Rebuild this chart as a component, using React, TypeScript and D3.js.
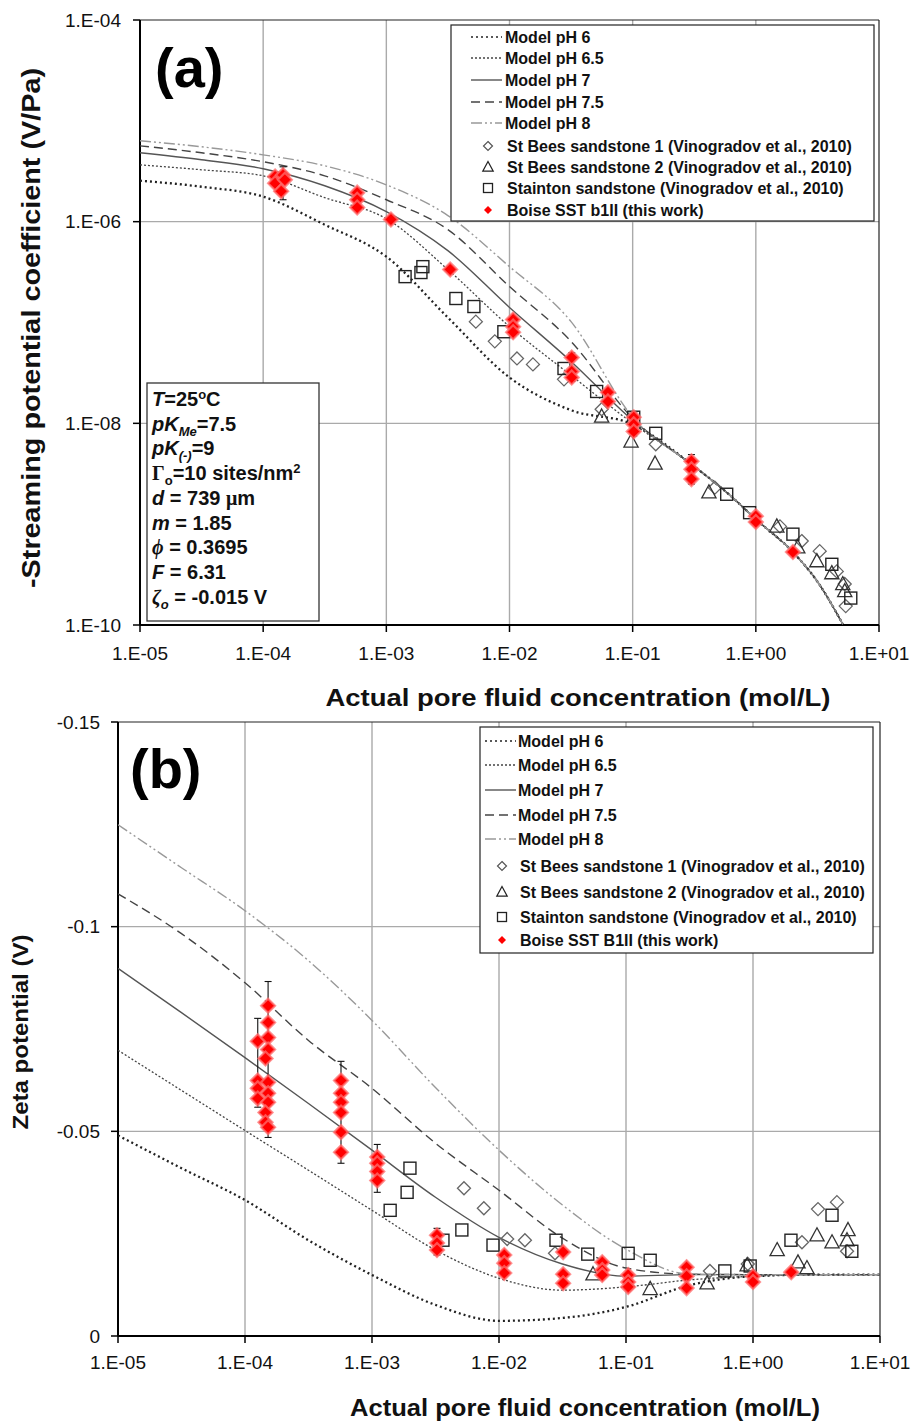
import React from 'react';
import * as d3 from 'd3';

const FONT = '"Liberation Sans", Arial, Helvetica, sans-serif';

// ---------- panel (a) : streaming potential coefficient ----------
const concA = [1e-5, 3.16e-5, 1e-4, 3.16e-4, 1e-3, 3.16e-3, 1e-2, 3.16e-2, 1e-1, 0.315, 0.615, 1, 2, 3.18, 5.08];
const tailA = [3.75e-9, 1.94e-9, 1.12e-9, 5.28e-10, 2.67e-10, 1.02e-10];
const spcPH6 = [2.55e-6, 2.22e-6, 1.77e-6, 9.33e-7, 4.5e-7, 1.12e-7, 2.85e-8, 1.35e-8, 9.77e-9, ...tailA];
const spcPH65 = [3.66e-6, 3.27e-6, 2.85e-6, 1.73e-6, 1.07e-6, 3.35e-7, 9.12e-8, 2.99e-8, 1.0e-8, ...tailA];
const spcPH7 = [4.82e-6, 4.11e-6, 3.35e-6, 2.27e-6, 1.26e-6, 5.16e-7, 1.41e-7, 4.11e-8, 1.07e-8, ...tailA];
const spcPH75 = [5.65e-6, 4.82e-6, 3.93e-6, 2.85e-6, 1.65e-6, 8.34e-7, 2.27e-7, 6.49e-8, 1.12e-8, ...tailA];
const spcPH8 = [6.34e-6, 5.53e-6, 4.6e-6, 3.58e-6, 2.32e-6, 1.15e-6, 3.58e-7, 1.02e-7, 1.15e-8, ...tailA];

const boiseA: [number, number][] = [
  [1.25e-4, 2.8e-6], [1.25e-4, 2.4e-6], [1.45e-4, 2.9e-6], [1.5e-4, 2.6e-6], [1.4e-4, 2.0e-6],
  [5.8e-4, 1.94e-6], [5.8e-4, 1.65e-6], [5.8e-4, 1.38e-6],
  [1.09e-3, 1.05e-6],
  [3.3e-3, 3.35e-7],
  [1.07e-2, 1.07e-7], [1.07e-2, 9.1e-8], [1.07e-2, 8.0e-8],
  [3.2e-2, 4.5e-8], [3.2e-2, 3.27e-8], [3.2e-2, 2.85e-8],
  [6.3e-2, 2.03e-8], [6.3e-2, 1.65e-8],
  [1.02e-1, 1.15e-8], [1.02e-1, 9.8e-9], [1.02e-1, 8.3e-9],
  [0.3, 4.2e-9], [0.3, 3.5e-9], [0.3, 2.8e-9],
  [1.0, 1.2e-9], [1.0, 1.05e-9],
  [2.0, 5.3e-10],
];
const errA: [number, number, number][] = [
  [1.45e-4, 3.5e-6, 1.65e-6], [1.02e-1, 1.3e-8, 7.5e-9], [0.3, 4.9e-9, 2.5e-9], [3.2e-2, 5.0e-8, 2.6e-8],
];
const staintonA: [number, number][] = [
  [1.42e-3, 2.85e-7], [1.91e-3, 3.13e-7], [1.98e-3, 3.58e-7], [3.67e-3, 1.73e-7], [5.14e-3, 1.44e-7],
  [9.0e-3, 8.1e-8], [2.77e-2, 3.5e-8], [5.1e-2, 2.07e-8], [1.02e-1, 1.15e-8], [1.54e-1, 7.96e-9],
  [5.8e-1, 1.98e-9], [0.89, 1.3e-9], [2.0, 7.96e-10], [4.14, 4.0e-10], [5.9, 1.85e-10],
];
const stBees1A: [number, number][] = [
  [5.33e-3, 1.02e-7], [7.6e-3, 6.5e-8], [1.15e-2, 4.4e-8], [1.55e-2, 3.84e-8], [2.77e-2, 2.73e-8],
  [5.6e-2, 1.38e-8], [1.54e-1, 6.2e-9], [0.465, 2.3e-9], [1.57, 9.5e-10], [2.36, 6.8e-10],
  [3.3, 5.4e-10], [4.54, 3.4e-10], [5.27, 2.55e-10], [5.37, 1.54e-10],
];
const stBees2A: [number, number][] = [
  [5.6e-2, 1.17e-8], [9.7e-2, 6.6e-9], [1.52e-1, 4.0e-9], [0.416, 2.07e-9], [1.48, 9.5e-10],
  [2.19, 5.9e-10], [3.13, 4.3e-10], [4.14, 3.27e-10], [5.08, 2.55e-10], [5.27, 2.17e-10],
];

// ---------- panel (b) : zeta potential ----------
const concB = [1e-5, 3.16e-5, 1e-4, 3.16e-4, 1e-3, 3.16e-3, 1e-2, 3.16e-2, 1e-1, 0.316, 1, 3.16, 10];
const zetaPH6 = [-0.049, -0.041, -0.0332, -0.0234, -0.0149, -0.0076, -0.0037, -0.0044, -0.0071, -0.0124, -0.0146, -0.015, -0.015];
const zetaPH65 = [-0.0698, -0.06, -0.0502, -0.0405, -0.0307, -0.021, -0.0141, -0.0112, -0.012, -0.0137, -0.0146, -0.015, -0.015];
const zetaPH7 = [-0.0898, -0.079, -0.068, -0.0568, -0.0454, -0.0339, -0.0241, -0.0176, -0.0146, -0.015, -0.015, -0.015, -0.015];
const zetaPH75 = [-0.108, -0.0983, -0.0863, -0.0722, -0.0605, -0.0471, -0.0356, -0.0239, -0.0166, -0.0151, -0.015, -0.015, -0.015];
const zetaPH8 = [-0.1249, -0.1144, -0.1039, -0.0917, -0.0771, -0.0607, -0.0454, -0.032, -0.0212, -0.0151, -0.015, -0.015, -0.015];

const boiseB: [number, number][] = [
  [1.26e-4, -0.072], [1.26e-4, -0.0624], [1.26e-4, -0.0605], [1.26e-4, -0.058],
  [1.52e-4, -0.0807], [1.52e-4, -0.0766], [1.52e-4, -0.0729], [1.52e-4, -0.07], [1.45e-4, -0.0678],
  [1.52e-4, -0.062], [1.52e-4, -0.0593], [1.52e-4, -0.0571], [1.45e-4, -0.0546], [1.45e-4, -0.0522], [1.52e-4, -0.051],
  [5.7e-4, -0.0624], [5.7e-4, -0.0593], [5.7e-4, -0.0571], [5.7e-4, -0.0546], [5.7e-4, -0.0498], [5.7e-4, -0.0449],
  [1.1e-3, -0.0437], [1.1e-3, -0.0422], [1.1e-3, -0.0402], [1.1e-3, -0.038],
  [3.25e-3, -0.0246], [3.25e-3, -0.0227], [3.25e-3, -0.021],
  [1.1e-2, -0.0198], [1.1e-2, -0.0178], [1.1e-2, -0.0154],
  [3.2e-2, -0.0205], [3.2e-2, -0.0151], [3.2e-2, -0.0129],
  [6.5e-2, -0.018], [6.5e-2, -0.0161], [6.5e-2, -0.0149],
  [0.104, -0.0149], [0.104, -0.0132], [0.104, -0.012],
  [0.3, -0.0168], [0.3, -0.0146], [0.3, -0.0117],
  [1.0, -0.0146], [1.0, -0.0132],
  [2.0, -0.0156],
];
const errB: [number, number, number][] = [
  [1.26e-4, -0.0776, -0.0559], [1.52e-4, -0.0866, -0.0485], [5.7e-4, -0.0671, -0.0422],
  [1.1e-3, -0.0468, -0.0351], [3.25e-3, -0.0263, -0.0198],
];
const staintonB: [number, number][] = [
  [1.39e-3, -0.0307], [1.89e-3, -0.0351], [1.99e-3, -0.041], [3.62e-3, -0.0234], [5.1e-3, -0.0259],
  [8.97e-3, -0.0222], [2.81e-2, -0.0234], [5.0e-2, -0.02], [0.104, -0.0202], [0.155, -0.0185],
  [0.6, -0.0159], [0.95, -0.0171], [1.99, -0.0234], [4.19, -0.0295], [6.0, -0.0207],
];
const stBees1B: [number, number][] = [
  [5.3e-3, -0.0361], [7.6e-3, -0.0312], [1.16e-2, -0.0237], [1.6e-2, -0.0234], [2.76e-2, -0.0202],
  [0.458, -0.0159], [0.91, -0.0176], [2.43, -0.0229], [3.25, -0.031], [4.58, -0.0327], [5.5, -0.0207],
];
const stBees2B: [number, number][] = [
  [5.5e-2, -0.0151], [0.155, -0.0115], [0.435, -0.0129], [0.9, -0.0173], [1.55, -0.021],
  [2.26, -0.018], [2.66, -0.0166], [3.19, -0.0246], [4.19, -0.0229], [5.5, -0.0234], [5.6, -0.0259],
];

// ---------- ticks & legend text ----------
const xTicks = [1e-5, 1e-4, 1e-3, 1e-2, 1e-1, 1, 10];
const xTickLabels = ['1.E-05', '1.E-04', '1.E-03', '1.E-02', '1.E-01', '1.E+00', '1.E+01'];
const yTicksA = [1e-4, 1e-6, 1e-8, 1e-10];
const yTickLabelsA = ['1.E-04', '1.E-06', '1.E-08', '1.E-10'];
const yTicksB = [-0.15, -0.1, -0.05, 0];
const yTickLabelsB = ['-0.15', '-0.1', '-0.05', '0'];
const modelNames = ['Model pH 6', 'Model pH 6.5', 'Model pH 7', 'Model pH 7.5', 'Model pH 8'];
const markerNames = [
  'St Bees sandstone 1 (Vinogradov et al., 2010)',
  'St Bees sandstone 2 (Vinogradov et al., 2010)',
  'Stainton sandstone (Vinogradov et al., 2010)',
];
const boiseNameA = 'Boise SST b1II (this work)';
const boiseNameB = 'Boise SST B1II (this work)';

// line look for pH 6, 6.5, 7, 7.5, 8
const lineStyles = [
  { stroke: '#222', width: 2.3, dash: '2 3' },
  { stroke: '#444', width: 1.3, dash: '2 2' },
  { stroke: '#555', width: 1.4, dash: '' },
  { stroke: '#444', width: 1.4, dash: '9 5' },
  { stroke: '#999', width: 1.4, dash: '11 3 2 3 2 3' },
];

const diamondPath = (s: number) => `M0,${-s}L${s},0L0,${s}L${-s},0Z`;
const trianglePath = (s: number) => `M0,${-s}L${s * 0.95},${s * 0.75}L${-s * 0.95},${s * 0.75}Z`;

function Markers({ pts, x, y, kind }: { pts: [number, number][]; x: any; y: any; kind: string }) {
  return (
    <g>
      {pts.map((d, i) => {
        const t = `translate(${x(d[0])},${y(d[1])})`;
        if (kind === 'diamond') return <path key={i} transform={t} d={diamondPath(6.5)} fill="none" stroke="#666" strokeWidth={1.3} />;
        if (kind === 'triangle') return <path key={i} transform={t} d={trianglePath(7.5)} fill="none" stroke="#333" strokeWidth={1.3} />;
        if (kind === 'square') return <rect key={i} transform={t} x={-6} y={-6} width={12} height={12} fill="none" stroke="#222" strokeWidth={1.4} />;
        return <path key={i} transform={t} d={diamondPath(7)} fill="#ff0000" stroke="rgba(255,110,110,0.75)" strokeWidth={2.2} />;
      })}
    </g>
  );
}

function ErrorBars({ bars, x, y }: { bars: [number, number, number][]; x: any; y: any }) {
  return (
    <g stroke="#111" strokeWidth={1.1}>
      {bars.map((b, i) => {
        const cx = x(b[0]);
        return (
          <g key={i}>
            <line x1={cx} x2={cx} y1={y(b[1])} y2={y(b[2])} />
            <line x1={cx - 3.5} x2={cx + 3.5} y1={y(b[1])} y2={y(b[1])} />
            <line x1={cx - 3.5} x2={cx + 3.5} y1={y(b[2])} y2={y(b[2])} />
          </g>
        );
      })}
    </g>
  );
}

function Legend({ x0, y0, w, h, rows, lineX, textX, markX, boiseName }: any) {
  const items = [...modelNames, ...markerNames, boiseName];
  const kinds = ['diamond', 'triangle', 'square', 'boise'];
  return (
    <g>
      <rect x={x0} y={y0} width={w} height={h} fill="#fff" stroke="#222" strokeWidth={1.2} />
      {items.map((name, i) => {
        const yy = rows[i];
        let sample = null;
        if (i < 5) {
          const st = lineStyles[i];
          sample = <line x1={lineX[0]} x2={lineX[1]} y1={yy} y2={yy} stroke={st.stroke} strokeWidth={Math.min(st.width, 1.6)} strokeDasharray={st.dash || undefined} />;
        } else {
          const k = kinds[i - 5];
          const t = `translate(${markX},${yy})`;
          if (k === 'diamond') sample = <path transform={t} d={diamondPath(4.5)} fill="none" stroke="#555" strokeWidth={1.2} />;
          else if (k === 'triangle') sample = <path transform={t} d={trianglePath(5.5)} fill="none" stroke="#222" strokeWidth={1.2} />;
          else if (k === 'square') sample = <rect transform={t} x={-4.5} y={-4.5} width={9} height={9} fill="none" stroke="#222" strokeWidth={1.3} />;
          else sample = <path transform={t} d={diamondPath(4)} fill="#ff0000" />;
        }
        return (
          <g key={i}>
            {sample}
            <text x={i < 5 ? textX : textX + 2} y={yy + 5.5} fontFamily={FONT} fontWeight="bold" fontSize={16} fill="#111">{name}</text>
          </g>
        );
      })}
    </g>
  );
}

function Frame({ x, y, left, right, top, bottom, yTicks, yLabels, vGrid, hGrid, labelY, yLabelX }: any) {
  return (
    <g>
      {vGrid.map((v: number, i: number) => (
        <line key={'v' + i} x1={x(v)} x2={x(v)} y1={top} y2={bottom} stroke="#aaa" strokeWidth={1.4} />
      ))}
      {hGrid.map((v: number, i: number) => (
        <line key={'h' + i} x1={left} x2={right} y1={y(v)} y2={y(v)} stroke="#aaa" strokeWidth={1.4} />
      ))}
      <line x1={left} x2={right} y1={top} y2={top} stroke="#222" strokeWidth={1.2} />
      <line x1={right} x2={right} y1={top} y2={bottom} stroke="#222" strokeWidth={1.2} />
      <line x1={left} x2={left} y1={top} y2={bottom} stroke="#000" strokeWidth={2} />
      <line x1={left} x2={right} y1={bottom} y2={bottom} stroke="#000" strokeWidth={2} />
      {xTicks.map((v, i) => (
        <g key={'xt' + i}>
          <line x1={x(v)} x2={x(v)} y1={bottom} y2={bottom + 7} stroke="#000" strokeWidth={1.5} />
          <text x={x(v)} y={labelY} textAnchor="middle" fontFamily={FONT} fontSize={19} fill="#111">{xTickLabels[i]}</text>
        </g>
      ))}
      {yTicks.map((v: number, i: number) => (
        <g key={'yt' + i}>
          <line x1={left - 7} x2={left} y1={y(v)} y2={y(v)} stroke="#000" strokeWidth={1.5} />
          <text x={yLabelX} y={y(v) + 6.5} textAnchor="end" fontFamily={FONT} fontSize={19} fill="#111">{yLabels[i]}</text>
        </g>
      ))}
    </g>
  );
}

export default function App() {
  // panel (a) scales
  const xA = d3.scaleLog().domain([1e-5, 10]).range([140, 879]);
  const yA = d3.scaleLog().domain([1e-10, 1e-4]).range([625, 20]);
  // panel (b) scales
  const xB = d3.scaleLog().domain([1e-5, 10]).range([118, 880]);
  const yB = d3.scaleLinear().domain([-0.15, 0]).range([722, 1336]);

  const lineA = d3.line<number>().x((_, i) => xA(concA[i])).y((d) => yA(d)).curve(d3.curveMonotoneX);
  const lineB = d3.line<number>().x((_, i) => xB(concB[i])).y((d) => yB(d)).curve(d3.curveMonotoneX);
  const curvesA = [spcPH6, spcPH65, spcPH7, spcPH75, spcPH8];
  const curvesB = [zetaPH6, zetaPH65, zetaPH7, zetaPH75, zetaPH8];
  const inner = [1e-4, 1e-3, 1e-2, 1e-1, 1];

  const boxY = d3.range(9).map((i) => 399 + i * 24.7);
  const serif = '"Liberation Serif", serif';

  return (
    <svg width={924} height={1422} style={{ position: 'absolute', left: 0, top: 0, background: '#fff' }}>
      <defs>
        <clipPath id="clipA"><rect x={140} y={20} width={739} height={605} /></clipPath>
        <clipPath id="clipB"><rect x={118} y={722} width={762} height={614} /></clipPath>
      </defs>
      <rect width={924} height={1422} fill="#fff" />

      {/* ---------- panel (a) ---------- */}
      <Frame x={xA} y={yA} left={140} right={879} top={20} bottom={625} yTicks={yTicksA} yLabels={yTickLabelsA}
        vGrid={inner} hGrid={[1e-6, 1e-8]} labelY={660} yLabelX={121} />
      <g clipPath="url(#clipA)">
        {curvesA.map((c, i) => (
          <path key={i} d={lineA(c) || ''} fill="none" stroke={lineStyles[i].stroke} strokeWidth={lineStyles[i].width}
            strokeDasharray={lineStyles[i].dash || undefined} />
        ))}
        <Markers pts={stBees1A} x={xA} y={yA} kind="diamond" />
        <Markers pts={stBees2A} x={xA} y={yA} kind="triangle" />
        <Markers pts={staintonA} x={xA} y={yA} kind="square" />
        <ErrorBars bars={errA} x={xA} y={yA} />
        <Markers pts={boiseA} x={xA} y={yA} kind="boise" />
      </g>
      <Legend x0={451} y0={25} w={423} h={196} rows={[37, 58, 80, 102, 123, 146, 167, 188, 210]}
        lineX={[471, 502]} textX={505} markX={488} boiseName={boiseNameA} />
      <text x={155} y={87} fontFamily={FONT} fontWeight="bold" fontSize={56} fill="#000">(a)</text>
      <rect x={147} y={383} width={172} height={238} fill="#fff" stroke="#333" strokeWidth={1.3} />
      <g fontFamily={FONT} fontWeight="bold" fontSize={20} fill="#111">
        <text x={152} y={boxY[0] + 7}><tspan fontStyle="italic">T</tspan>=25<tspan dy={-7} fontSize={13}>o</tspan><tspan dy={7}>C</tspan></text>
        <text x={152} y={boxY[1] + 7}><tspan fontStyle="italic">pK</tspan><tspan fontStyle="italic" dy={5} fontSize={13}>Me</tspan><tspan dy={-5}>=7.5</tspan></text>
        <text x={152} y={boxY[2] + 7}><tspan fontStyle="italic">pK</tspan><tspan fontStyle="italic" dy={5} fontSize={13}>(-)</tspan><tspan dy={-5}>=9</tspan></text>
        <text x={152} y={boxY[3] + 7}><tspan fontFamily={serif}>Γ</tspan><tspan dy={5} fontSize={13}>o</tspan><tspan dy={-5}>=10 sites/nm</tspan><tspan dy={-7} fontSize={13}>2</tspan></text>
        <text x={152} y={boxY[4] + 7}><tspan fontStyle="italic">d</tspan> = 739 <tspan fontFamily={serif}>μ</tspan>m</text>
        <text x={152} y={boxY[5] + 7}><tspan fontStyle="italic">m</tspan> = 1.85</text>
        <text x={152} y={boxY[6] + 7}><tspan fontStyle="italic" fontFamily={serif}>ϕ</tspan> = 0.3695</text>
        <text x={152} y={boxY[7] + 7}><tspan fontStyle="italic">F</tspan> = 6.31</text>
        <text x={152} y={boxY[8] + 7}><tspan fontStyle="italic" fontFamily={serif}>ζ</tspan><tspan fontStyle="italic" dy={5} fontSize={13}>o</tspan><tspan dy={-5}> = -0.015 V</tspan></text>
      </g>
      <text transform="translate(40,328) rotate(-90)" textAnchor="middle" fontFamily={FONT} fontWeight="bold" fontSize={25}
        fill="#111" textLength={520} lengthAdjust="spacingAndGlyphs">
        -Streaming potential coefficient (V/Pa)
      </text>
      <text x={578} y={706} textAnchor="middle" fontFamily={FONT} fontWeight="bold" fontSize={24} fill="#111"
        textLength={505} lengthAdjust="spacingAndGlyphs">
        Actual pore fluid concentration (mol/L)
      </text>

      {/* ---------- panel (b) ---------- */}
      <Frame x={xB} y={yB} left={118} right={880} top={722} bottom={1336} yTicks={yTicksB} yLabels={yTickLabelsB}
        vGrid={inner} hGrid={[-0.1, -0.05]} labelY={1369} yLabelX={100} />
      <g clipPath="url(#clipB)">
        {curvesB.map((c, i) => (
          <path key={i} d={lineB(c) || ''} fill="none" stroke={lineStyles[i].stroke} strokeWidth={lineStyles[i].width}
            strokeDasharray={lineStyles[i].dash || undefined} />
        ))}
        <Markers pts={stBees1B} x={xB} y={yB} kind="diamond" />
        <Markers pts={stBees2B} x={xB} y={yB} kind="triangle" />
        <Markers pts={staintonB} x={xB} y={yB} kind="square" />
        <ErrorBars bars={errB} x={xB} y={yB} />
        <Markers pts={boiseB} x={xB} y={yB} kind="boise" />
      </g>
      <Legend x0={480} y0={727} w={393} h={226} rows={[741, 765, 790, 815, 839, 866, 892, 917, 940]}
        lineX={[485, 516]} textX={518} markX={502} boiseName={boiseNameB} />
      <text x={130} y={788} fontFamily={FONT} fontWeight="bold" fontSize={56} fill="#000">(b)</text>
      <text transform="translate(28,1032) rotate(-90)" textAnchor="middle" fontFamily={FONT} fontWeight="bold" fontSize={22}
        fill="#111" textLength={195} lengthAdjust="spacingAndGlyphs">
        Zeta potential (V)
      </text>
      <text x={585} y={1416} textAnchor="middle" fontFamily={FONT} fontWeight="bold" fontSize={23} fill="#111"
        textLength={470} lengthAdjust="spacingAndGlyphs">
        Actual pore fluid concentration (mol/L)
      </text>
    </svg>
  );
}
